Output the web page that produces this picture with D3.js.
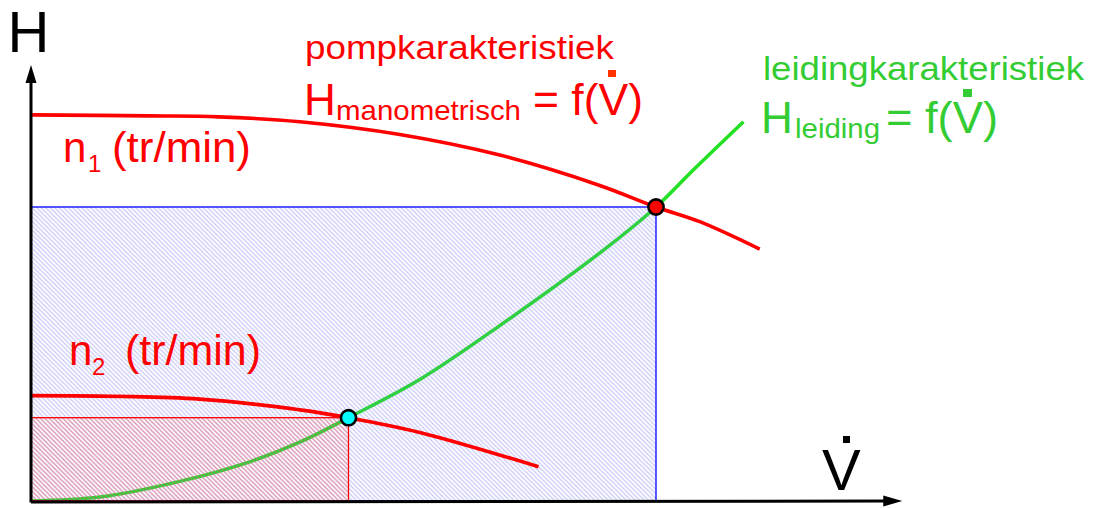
<!DOCTYPE html>
<html>
<head>
<meta charset="utf-8">
<script src="https://cdn.jsdelivr.net/npm/d3@7/dist/d3.min.js"></script>
<style>
  html, body { margin: 0; padding: 0; background: #ffffff; }
  svg { display: block; }
  text { font-family: "Liberation Sans", Arial, Helvetica, sans-serif; }
</style>
</head>
<body>
<svg id="chart" width="1100" height="508"></svg>
<script>
// ---------- DATA ----------
// pump characteristic at speed n1 (flow, head)
const pumpN1Flow = [0, 9.5, 15, 21.5, 29.5, 37.5, 45.5, 50, 53.5, 58.3];
const pumpN1Head = [39.4, 39.3, 39.2, 38.7, 37.4, 35.3, 32.2, 30.0, 28.5, 25.7];
// pump characteristic at speed n2
const pumpN2Flow = [0, 13.5, 21.5, 25.4, 31.1, 40.6];
const pumpN2Head = [10.75, 10.4, 9.3, 8.5, 7.0, 3.5];
// pipe (system) characteristic
const pipeFlow = [0, 5.5, 11.9, 17.5, 21.5, 25.4, 31.1, 37.5, 45.8, 50, 53, 57];
const pipeHead = [0, 0.4, 2.0, 4.0, 6.0, 8.5, 12.4, 17.9, 25.6, 30, 33.8, 38.7];
// operating points
const operatingFlow = [50, 25.4];
const operatingHead = [30, 8.5];
const operatingNames = ["n1", "n2"];
// axis extents
const flowAxisMax = 69.7;
const headAxisMax = 44.5;
// labels
const axisLabelH = "H";
const axisLabelV = "V";
const pumpTitle = "pompkarakteristiek";
const pipeTitle = "leidingkarakteristiek";
const speedLabels = ["n", "(tr/min)"];
const speedSubs = ["1", "2"];

// ---------- SETUP ----------
const svg = d3.select("#chart");
const red = "#ff0000", green = "#33cc33", lineGreen = "#22e022";

const x = d3.scaleLinear().domain([0, 50]).range([31, 656]);
const y = d3.scaleLinear().domain([0, 30]).range([501, 207]);

svg.append("rect").attr("width", 1100).attr("height", 508).attr("fill", "#fff");

const defs = svg.append("defs");
function hatch(id, color, width) {
  const s = 4.5;
  const p = defs.append("pattern").attr("id", id)
    .attr("patternUnits", "userSpaceOnUse").attr("width", s).attr("height", s);
  p.append("path")
    .attr("d", `M-1,-1 L${s+1},${s+1} M-1,${s-1} L1,${s+1} M${s-1},-1 L${s+1},1`)
    .attr("stroke", color).attr("stroke-width", width).attr("fill", "none");
}
hatch("hatchBlue", "rgba(120,120,240,0.4)", 1.3);
hatch("hatchRed", "rgba(245,80,80,0.42)", 1.4);

const toPts = (fx, fy) => fx.map((d, i) => [d, fy[i]]);
const line = d3.line().x(d => x(d[0])).y(d => y(d[1])).curve(d3.curveCatmullRom.alpha(0.5));

// pipe curve (under the hatching)
svg.append("path").datum(toPts(pipeFlow, pipeHead))
  .attr("d", line).attr("fill", "none").attr("stroke", lineGreen).attr("stroke-width", 3.5);

// hatched rectangles
svg.append("rect")
  .attr("x", x(0)).attr("y", y(operatingHead[0]))
  .attr("width", x(operatingFlow[0]) - x(0)).attr("height", y(0) - y(operatingHead[0]))
  .attr("fill", "url(#hatchBlue)").attr("stroke", "#0000ff").attr("stroke-width", 1.3);
svg.append("rect")
  .attr("x", x(0)).attr("y", y(operatingHead[1]))
  .attr("width", x(operatingFlow[1]) - x(0)).attr("height", y(0) - y(operatingHead[1]))
  .attr("fill", "url(#hatchRed)").attr("stroke", "#ff0000").attr("stroke-width", 1.3);

// pump curves
svg.append("path").datum(toPts(pumpN1Flow, pumpN1Head))
  .attr("d", line).attr("fill", "none").attr("stroke", red).attr("stroke-width", 3.6);
svg.append("path").datum(toPts(pumpN2Flow, pumpN2Head))
  .attr("d", line).attr("fill", "none").attr("stroke", red).attr("stroke-width", 3.6);

// axes
const ax = svg.append("g").attr("stroke", "#000").attr("fill", "#000");
const x0 = x(0), y0 = y(0), xTip = x(flowAxisMax), yTip = y(headAxisMax);
ax.append("line").attr("x1", x0).attr("y1", y0 + 1).attr("x2", xTip - 16).attr("y2", y0).attr("stroke-width", 3);
ax.append("line").attr("x1", x0).attr("y1", y0 + 1.5).attr("x2", x0).attr("y2", yTip + 14).attr("stroke-width", 3);
ax.append("path").attr("stroke", "none")
  .attr("d", `M${xTip},${y0} L${xTip-19},${y0-5.5} L${xTip-19},${y0+5.5} Z`);
ax.append("path").attr("stroke", "none")
  .attr("d", `M${x0},${yTip} L${x0-5.5},${yTip+18} L${x0+5.5},${yTip+18} Z`);

// operating points
svg.selectAll("circle.op").data(operatingFlow.map((f, i) => ({f, h: operatingHead[i], n: operatingNames[i]})))
  .enter().append("circle").attr("class", "op")
  .attr("cx", d => x(d.f)).attr("cy", d => y(d.h)).attr("r", 7.6)
  .attr("fill", d => d.n === "n1" ? "#ff0000" : "#00ffff")
  .attr("stroke", "#000").attr("stroke-width", 2.6);

// ---------- TEXT ----------
function txt(s, px, py, size, color, len) {
  const t = svg.append("text").attr("x", px).attr("y", py)
    .attr("font-size", size).attr("fill", color).text(s);
  if (len) t.attr("textLength", len).attr("lengthAdjust", "spacingAndGlyphs");
  return t;
}
// axis labels
txt(axisLabelH, 7.5, 52, 58, "#000");
txt(axisLabelV, 822, 490, 58, "#000");
svg.append("rect").attr("x", 843).attr("y", 436).attr("width", 7).attr("height", 7).attr("fill", "#000");

// pump title
txt(pumpTitle, 305, 59, 34, red, 309);
txt("H", 304, 115, 44, red);
txt("manometrisch", 336, 120, 28, red, 185);
txt("= f(V)", 533, 115, 44, red, 110);
svg.append("rect").attr("x", 608).attr("y", 70).attr("width", 8).attr("height", 7).attr("fill", "#ff3300");

// pipe title
txt(pipeTitle, 763, 80, 34, green, 321);
txt("H", 761, 133, 44, green);
txt("leiding", 795, 138, 28, green, 85);
txt("= f(V)", 886, 133, 44, green, 112);
svg.append("rect").attr("x", 963).attr("y", 89).attr("width", 9).attr("height", 8).attr("fill", green);

// speed labels
txt(speedLabels[0], 63, 162, 42, red);
txt(speedSubs[0], 88, 172, 24, red);
txt(speedLabels[1], 112, 162, 42, red, 139);
txt(speedLabels[0], 69, 365, 42, red);
txt(speedSubs[1], 92, 375, 24, red);
txt(speedLabels[1], 125, 365, 42, red, 136);
</script>
</body>
</html>
